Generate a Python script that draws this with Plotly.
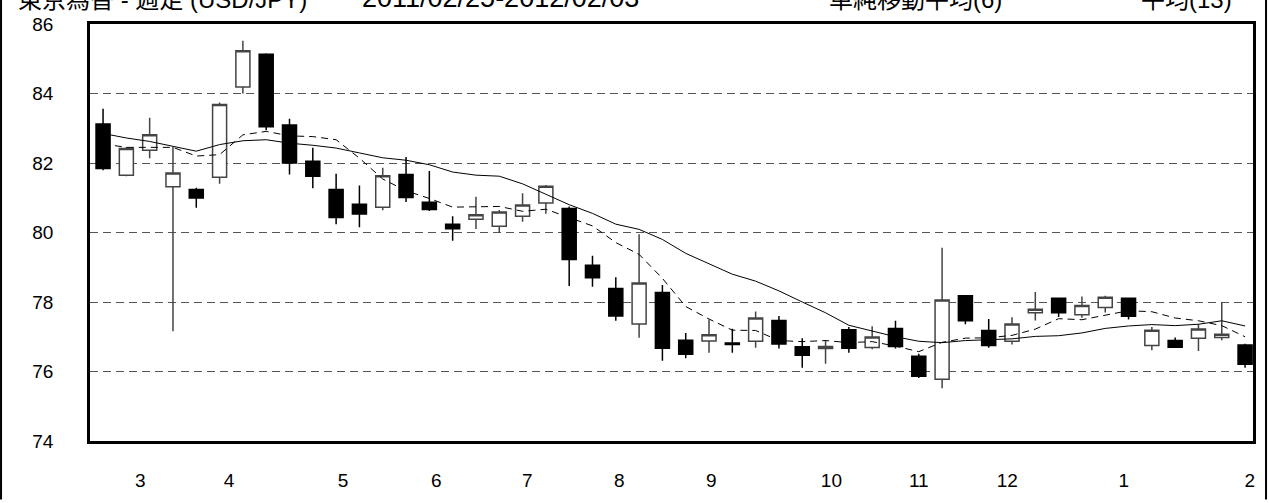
import plotly.graph_objects as go

# weekly USD/JPY candles, 2011/02/25 - 2012/02/03
opens = [83.12, 81.65, 82.37, 81.32, 81.24, 81.59, 84.19, 85.13, 83.09, 82.05,
         81.24, 80.81, 80.73, 81.67, 80.87, 80.24, 80.38, 80.18, 80.47, 80.85,
         80.69, 79.06, 78.39, 77.37, 78.27, 76.90, 76.88, 76.82, 76.87, 77.47,
         76.71, 76.66, 77.20, 76.69, 77.24, 76.44, 75.78, 78.18, 77.18, 76.87,
         77.69, 78.11, 77.63, 77.84, 78.11, 76.75, 76.89, 76.96, 76.98, 76.76]
highs = [83.56, 82.46, 83.30, 82.46, 81.29, 83.74, 85.52, 85.16, 83.27, 82.44,
         81.69, 81.35, 81.86, 82.17, 81.77, 80.47, 81.03, 80.65, 81.13, 81.37,
         80.75, 79.33, 78.71, 79.95, 78.49, 77.11, 77.50, 77.23, 77.73, 77.60,
         76.96, 76.91, 77.28, 77.30, 77.46, 76.51, 79.56, 78.20, 77.51, 77.56,
         78.29, 78.13, 78.16, 78.18, 78.13, 77.28, 76.98, 77.36, 78.00, 76.80]
lows = [81.79, 81.62, 82.14, 77.16, 80.71, 81.40, 84.00, 82.94, 81.67, 81.27,
        80.24, 80.15, 80.64, 80.88, 80.62, 79.76, 80.10, 80.01, 80.31, 80.54,
        78.46, 78.44, 77.46, 76.97, 76.31, 76.38, 76.54, 76.54, 76.68, 76.66,
        76.11, 76.22, 76.54, 76.64, 76.66, 75.81, 75.52, 77.36, 76.68, 76.78,
        77.47, 77.57, 77.55, 77.70, 77.50, 76.61, 76.68, 76.59, 76.90, 76.11]
closes = [81.84, 82.42, 82.81, 81.71, 80.99, 83.68, 85.23, 83.04, 82.00, 81.62,
          80.43, 80.53, 81.63, 81.01, 80.66, 80.11, 80.51, 80.59, 80.79, 81.33,
          79.22, 78.70, 77.60, 78.55, 76.67, 76.50, 77.06, 76.78, 77.54, 76.79,
          76.47, 76.72, 76.67, 76.99, 76.72, 75.86, 78.06, 77.46, 76.75, 77.37,
          77.79, 77.69, 77.90, 78.14, 77.59, 77.19, 76.70, 77.22, 77.07, 76.21]

ma6 = [82.55, 82.45, 82.45, 82.45, 82.20, 82.24, 82.81, 82.91, 82.78, 82.76,
       82.67, 82.14, 81.54, 81.20, 80.98, 80.73, 80.74, 80.75, 80.61, 80.67,
       80.43, 80.19, 79.71, 79.37, 78.68, 77.87, 77.51, 77.19, 77.18, 76.89,
       76.86, 76.89, 76.83, 76.86, 76.73, 76.57, 76.84, 76.96, 76.97, 77.04,
       77.22, 77.52, 77.49, 77.61, 77.75, 77.72, 77.54, 77.46, 77.32, 77.00]
ma13 = [82.85, 82.72, 82.62, 82.48, 82.34, 82.53, 82.64, 82.67, 82.57, 82.51,
        82.43, 82.29, 82.15, 82.08, 81.95, 81.74, 81.65, 81.62, 81.40, 81.10,
        80.80, 80.55, 80.24, 80.09, 79.80, 79.40, 79.10, 78.80, 78.60, 78.32,
        78.00, 77.69, 77.33, 77.16, 77.00, 76.87, 76.83, 76.89, 76.91, 76.94,
        77.01, 77.03, 77.11, 77.24, 77.31, 77.35, 77.32, 77.36, 77.46, 77.31]

month_pos = [1.6, 5.4, 10.3, 14.3, 18.2, 22.15, 26.1, 31.25, 35.0, 38.8, 43.8, 49.2]
month_labels = ["3", "4", "5", "6", "7", "8", "9", "10", "11", "12", "1", "2"]

title_text = "東京為替 - 週足 (USD/JPY)"
period_text = "2011/02/25-2012/02/03"
legend_short = "単純移動平均(6)"
legend_long = "平均(13)"

weeks = list(range(len(closes)))
FONT = "Liberation Sans, Arial, Noto Sans CJK JP"

fig = go.Figure()
fig.add_trace(go.Candlestick(
    x=weeks, open=opens, high=highs, low=lows, close=closes,
    increasing=dict(fillcolor="white", line=dict(color="#444444", width=1.5)),
    decreasing=dict(fillcolor="black", line=dict(color="black", width=1.5)),
    whiskerwidth=0, showlegend=False, hoverinfo="skip",
))
fig.add_trace(go.Scatter(x=weeks, y=ma6, mode="lines",
                         line=dict(color="black", width=1, dash="7px,5px"),
                         showlegend=False, hoverinfo="skip"))
fig.add_trace(go.Scatter(x=weeks, y=ma13, mode="lines",
                         line=dict(color="black", width=1),
                         showlegend=False, hoverinfo="skip"))

fig.update_layout(
    width=1269, height=503,
    margin=dict(l=90, r=16, t=24, b=56),
    paper_bgcolor="white", plot_bgcolor="white",
    font=dict(family=FONT, size=19, color="black"),
    boxgap=0.14,
    showlegend=False,
)
fig.update_xaxes(
    range=[-0.56, 49.34], rangeslider_visible=False,
    tickvals=month_pos, ticktext=month_labels,
    showgrid=False, zeroline=False,
    showline=True, mirror=True, linecolor="black", linewidth=2.5,
    ticks="", ticklabelstandoff=20,
)
fig.update_yaxes(
    range=[74, 86], dtick=2, tick0=74,
    showgrid=True, gridcolor="#555555", gridwidth=1.2, griddash="8px,5px",
    zeroline=False,
    showline=True, mirror=True, linecolor="black", linewidth=2.5,
    ticks="", ticklabelstandoff=30,
)

# text at the top of the page (partly cut off, as in the source image)
top_y = 1.021
fig.add_annotation(text=title_text, xref="paper", yref="paper",
                   x=-0.064, y=top_y, xanchor="left", yanchor="bottom",
                   showarrow=False, font=dict(size=24))
fig.add_annotation(text=period_text, xref="paper", yref="paper",
                   x=0.232, y=top_y, xanchor="left", yanchor="bottom",
                   showarrow=False, font=dict(size=27))
fig.add_annotation(text=legend_short, xref="paper", yref="paper",
                   x=0.634, y=top_y, xanchor="left", yanchor="bottom",
                   showarrow=False, font=dict(size=24))
fig.add_annotation(text=legend_long, xref="paper", yref="paper",
                   x=0.902, y=top_y, xanchor="left", yanchor="bottom",
                   showarrow=False, font=dict(size=24))

# outer page frame
for xp in (-0.0765, 1.0112):
    fig.add_shape(type="line", xref="paper", yref="paper",
                  x0=xp, x1=xp, y0=-0.14, y1=1.07,
                  line=dict(color="black", width=2))

fig.write_html("out.html", config={"displayModeBar": False},
               post_script="document.body.style.margin='0';")
